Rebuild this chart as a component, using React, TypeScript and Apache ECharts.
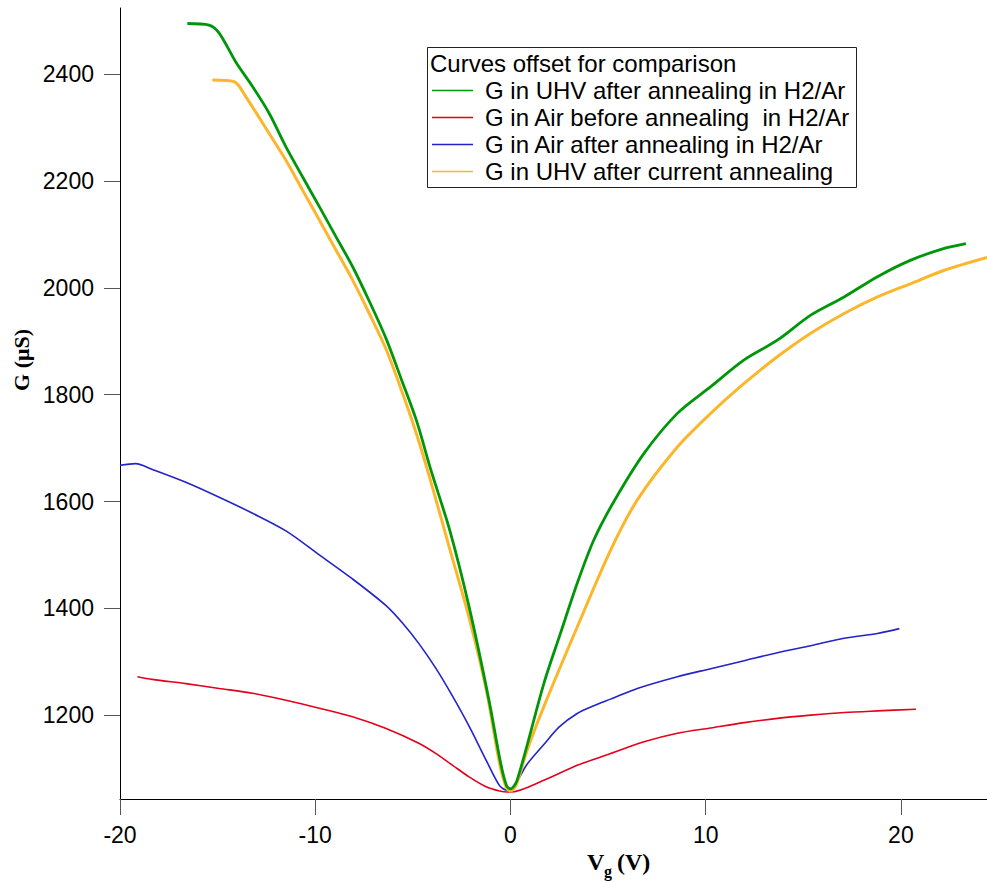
import React, { useEffect, useRef } from "react";
import * as echarts from "echarts";

const xTicks = [-20, -10, 0, 10, 20];
const yTicks = [1200, 1400, 1600, 1800, 2000, 2200, 2400];

const legendTitle = "Curves offset for comparison";
const nameGreen = "G in UHV after annealing in H2/Ar";
const nameRed = "G in Air before annealing  in H2/Ar";
const nameBlue = "G in Air after annealing in H2/Ar";
const nameYellow = "G in UHV after current annealing";

const greenV = [-16.55, -15.44, -14.92, -14.07, -13.21, -12.36, -11.5, -10.65, -9.79, -8.94, -8.09, -7.23, -6.37, -5.6, -4.8, -4.1, -3.1, -2.1, -1.1, -0.5, -0.2, 0, 0.34, 1.71, 2.56, 3.42, 4.27, 5.3, 6.84, 8.55, 10.26, 11.97, 13.67, 15.38, 17.09, 18.8, 20.51, 22.22, 23.33];
const greenG = [2495, 2492, 2477, 2423, 2377, 2327, 2264, 2208, 2152, 2096, 2040, 1975, 1905, 1830, 1750, 1662, 1545, 1400, 1228, 1110, 1068, 1062, 1078, 1259, 1353, 1447, 1528, 1600, 1690, 1765, 1815, 1865, 1902, 1949, 1983, 2021, 2052, 2074, 2083];

const yellowV = [-15.27, -14.15, -13.56, -12.36, -11.5, -10.65, -9.79, -8.94, -8.09, -7.23, -6.37, -5.6, -4.8, -4.1, -3.1, -2.1, -1.25, -0.56, -0.22, 0, 0.3, 0.85, 1.71, 3.42, 5.13, 6.5, 8.55, 10.26, 11.97, 13.67, 15.38, 17.09, 18.8, 20.51, 22.22, 24.41];
const yellowG = [2389, 2386, 2358, 2289, 2239, 2183, 2127, 2071, 2015, 1952, 1885, 1810, 1725, 1640, 1510, 1380, 1250, 1110, 1065, 1058, 1070, 1134, 1216, 1365, 1509, 1603, 1702, 1765, 1821, 1871, 1915, 1952, 1983, 2008, 2033, 2057];

const blueV = [-20, -19.2, -18.34, -16.63, -14.92, -13.21, -11.5, -9.79, -8.09, -6.37, -5.52, -4.67, -3.81, -2.96, -2.1, -1.25, -0.56, -0.2, 0.17, 0.85, 1.71, 2.5, 3.42, 4.3, 5.13, 6.5, 8.55, 10.26, 11.97, 13.67, 15.38, 17.09, 18.8, 19.92];
const blueG = [1668, 1671, 1660, 1636, 1608, 1578, 1545, 1500, 1455, 1405, 1372, 1333, 1287, 1235, 1178, 1116, 1068, 1060, 1066, 1108, 1145, 1178, 1203, 1218, 1230, 1250, 1272, 1287, 1302, 1317, 1330, 1344, 1353, 1362];

const redV = [-19.11, -18.34, -16.63, -14.92, -13.21, -11.5, -9.79, -8.09, -6.37, -4.67, -3.81, -2.96, -2.1, -1.25, -0.56, -0.15, 0, 1.71, 3.42, 5.13, 6.84, 8.55, 10.26, 11.97, 13.67, 15.38, 17.09, 18.8, 20.77];
const redG = [1272, 1267, 1259, 1250, 1241, 1228, 1213, 1197, 1175, 1147, 1128, 1106, 1084, 1066, 1058, 1056, 1056, 1078, 1106, 1128, 1150, 1166, 1176, 1186, 1194, 1200, 1205, 1208, 1211];

const colGreen = "#00960a";
const colRed = "#e3001b";
const colBlue = "#2323c8";
const colYellow = "#fbb62c";

const zip = (xs: number[], ys: number[]) => xs.map((x, i) => [x, ys[i]]);

const SANS = "'Liberation Sans', Arial, sans-serif";
const SERIF = "'Liberation Serif', 'Times New Roman', serif";

export default function App() {
  const ref = useRef<HTMLDivElement>(null);
  useEffect(() => {
    if (!ref.current) return;
    const chart = echarts.init(ref.current, undefined, { renderer: "svg" });
    const mkSeries = (name: string, color: string, data: number[][], width: number) => ({
      type: "line",
      name,
      data,
      showSymbol: false,
      symbol: "none",
      smooth: 0.3,
      color,
      lineStyle: { color, width },
    });
    chart.setOption({
      animation: false,
      backgroundColor: "#fff",
      grid: { left: 120, right: 0, top: 8, bottom: 83, containLabel: false },
      xAxis: {
        type: "value",
        min: -20,
        max: 24.41,
        splitLine: { show: false },
        axisLine: { show: true, onZero: false, lineStyle: { color: "#000", width: 1 } },
        axisTick: { show: true, customValues: xTicks, length: 16, lineStyle: { color: "#555", width: 1 } },
        axisLabel: { customValues: xTicks, margin: 24, fontSize: 23, color: "#000", fontFamily: SANS, formatter: (v: number) => String(v) },
      },
      yAxis: {
        type: "value",
        min: 1043,
        max: 2524,
        splitLine: { show: false },
        axisLine: { show: true, onZero: false, lineStyle: { color: "#000", width: 1 } },
        axisTick: { show: true, customValues: yTicks, length: 16, lineStyle: { color: "#555", width: 1 } },
        axisLabel: { customValues: yTicks, margin: 26, fontSize: 23, color: "#000", fontFamily: SANS, formatter: (v: number) => String(v) },
      },
      legend: {
        orient: "vertical",
        left: 432,
        top: 77,
        padding: 0,
        itemGap: 0,
        itemWidth: 41,
        itemHeight: 1.5,
        icon: "rect",
        data: [nameGreen, nameRed, nameBlue, nameYellow],
        textStyle: { fontSize: 24, lineHeight: 27, color: "#000", fontFamily: SANS, padding: [0, 0, 0, 7] },
      },
      graphic: [
        {
          type: "rect",
          z: -1,
          shape: { x: 427.5, y: 47.5, width: 429, height: 140 },
          style: { fill: "#fff", stroke: "#222", lineWidth: 1 },
        },
        {
          type: "text",
          x: 430,
          y: 63,
          style: { text: legendTitle, fontSize: 24, fontFamily: SANS, fill: "#000", align: "left", verticalAlign: "middle" },
        },
        {
          type: "text",
          x: 21,
          y: 360,
          rotation: Math.PI / 2,
          style: { text: "G (μS)", fontSize: 22, fontWeight: "bold", fontFamily: SERIF, fill: "#000", align: "center", verticalAlign: "middle" },
        },
        {
          type: "text",
          x: 587,
          y: 862,
          style: { text: "V", fontSize: 24, fontWeight: "bold", fontFamily: SERIF, fill: "#000", align: "left", verticalAlign: "middle" },
        },
        {
          type: "text",
          x: 604,
          y: 871,
          style: { text: "g", fontSize: 16, fontWeight: "bold", fontFamily: SERIF, fill: "#000", align: "left", verticalAlign: "middle" },
        },
        {
          type: "text",
          x: 617,
          y: 862,
          style: { text: "(V)", fontSize: 24, fontWeight: "bold", fontFamily: SERIF, fill: "#000", align: "left", verticalAlign: "middle" },
        },
      ],
      series: [
        mkSeries(nameRed, colRed, zip(redV, redG), 1.6),
        mkSeries(nameBlue, colBlue, zip(blueV, blueG), 1.6),
        mkSeries(nameYellow, colYellow, zip(yellowV, yellowG), 3),
        mkSeries(nameGreen, colGreen, zip(greenV, greenG), 2.8),
      ],
    });
    return () => chart.dispose();
  }, []);
  return (
    <div
      ref={ref}
      style={{ position: "absolute", left: 0, top: 0, width: 987, height: 882, background: "#fff" }}
    />
  );
}
